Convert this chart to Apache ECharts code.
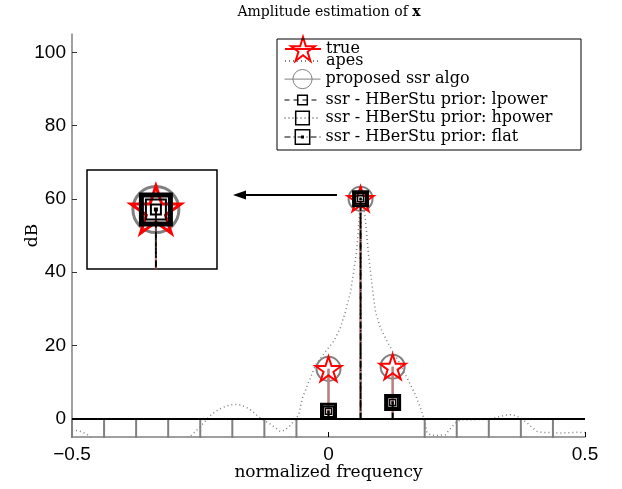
<!DOCTYPE html>
<html>
<head>
<meta charset="utf-8">
<script src="https://cdn.jsdelivr.net/npm/echarts@6/dist/echarts.min.js"></script>
<style>html,body{margin:0;padding:0;background:#fff}#c{width:622px;height:489px}</style>
</head>
<body>
<div id="c"></div>
<script>
// ---- data ----
const xTickValues = [-0.5, 0, 0.5];
const yTickValues = [0, 20, 40, 60, 80, 100];

const trueFreq = [0, 0.0625, 0.125];
const trueDb = [13.6, 60, 14.2];

const apesFreq = [-0.5,-0.49,-0.48,-0.47,-0.46,-0.44,-0.4,-0.36,-0.32,-0.29,-0.27,-0.26,-0.25,-0.24,-0.23,-0.22,-0.21,-0.2,-0.19,-0.18,-0.17,-0.16,-0.15,-0.14,-0.13,-0.12,-0.11,-0.1,-0.094,-0.085,-0.078,-0.072,-0.065,-0.058,-0.051,-0.038,-0.025,-0.006,0.01,0.023,0.033,0.043,0.049,0.0546,0.058,0.0604,0.0625,0.065,0.0675,0.0708,0.0741,0.0774,0.0819,0.0864,0.0916,0.1014,0.1176,0.137,0.1565,0.1696,0.1826,0.188,0.192,0.2,0.21,0.228,0.241,0.25,0.257,0.27,0.283,0.3,0.309,0.32,0.335,0.345,0.355,0.365,0.375,0.387,0.397,0.407,0.42,0.433,0.45,0.472,0.485,0.5];
const apesDb = [-3.0,-3.3,-3.6,-4.4,-5.6,-8,-10,-11,-9,-6.5,-4.8,-3.6,-2.2,-0.6,0.9,2.0,2.8,3.4,3.8,3.9,3.7,3.1,2.2,1.0,-0.1,-0.9,-1.8,-2.9,-3.5,-3.1,-2.3,-1.4,-0.2,1.1,5.6,10.2,14.7,18.3,21.1,24.7,29.2,34.7,40.1,45.6,51,55.6,58.5,60,58.5,55.6,51,45.6,40.1,34.7,29.2,24.7,20.2,15.6,10.2,6.5,1.6,-1.0,-3.8,-4.5,-4.6,-4.4,-2.1,-0.9,-0.3,-0.3,-0.3,-0.2,-0.2,0.1,0.6,1.0,1.1,0.8,0.1,-1.1,-2.4,-3.5,-3.8,-3.8,-3.9,-3.8,-3.7,-3.8];

const proposedFreq = [-0.5,-0.4375,-0.375,-0.3125,-0.25,-0.1875,-0.125,-0.0625,0,0.0625,0.125,0.1875,0.25,0.3125,0.375,0.4375];
const proposedDb = [-100,-100,-100,-100,-100,-100,-100,-100,13.6,60,14.2,-100,-100,-100,-100,-100];

const ssrFreq = [0, 0.0625, 0.125];
const lpowerDb = [2.0, 60, 4.4];
const hpowerDb = [2.0, 60, 4.4];
const flatDb = [1.9, 60, 4.4];

// ---- styles ----
const STAR = 'path://M50,0 L61.17,34.63 L97.55,34.55 L68.07,55.87 L79.39,90.45 L50,69 L20.61,90.45 L31.93,55.87 L2.45,34.55 L38.83,34.63 Z';
const DOTSQ = 'path://M0,0H20V20H0Z M9,9H11V11H9Z';
const GREY = '#808080';
const SERIF = 'DejaVu Serif';

function stems(xs, ys) {
  const d = [];
  xs.forEach((x, i) => {
    d.push({ value: [x, 0], symbol: 'none' });
    d.push([x, ys[i]]);
    d.push([x, '-']);
  });
  return d;
}

const defs = [
  { name: 'proposed ssr algo', xs: proposedFreq, ys: proposedDb, symbol: 'circle', size: [24, 46],
    item: { color: 'transparent', borderColor: GREY }, bw: [2, 3], line: { color: GREY, width: 2, type: 'solid' } },
  { name: 'true', xs: trueFreq, ys: trueDb, symbol: STAR, size: [26, 50],
    item: { color: 'transparent', borderColor: '#ff0000' }, bw: [2, 3], line: { color: '#c27c7c', width: 2, type: 'solid' } },
  { name: 'ssr - HBerStu prior: hpower', xs: ssrFreq, ys: hpowerDb, symbol: 'rect', size: [14, 29],
    item: { color: 'transparent', borderColor: '#000' }, bw: [3, 5], line: { color: '#000', width: 1.5, type: [1, 3] } },
  { name: 'ssr - HBerStu prior: flat', xs: ssrFreq, ys: flatDb, symbol: DOTSQ, size: [10, 20],
    item: { color: 'transparent', borderColor: '#000' }, bw: [1.5, 2], line: { color: '#000', width: 1.5, type: [6, 3, 1, 3] } },
  { name: 'ssr - HBerStu prior: lpower', xs: ssrFreq, ys: lpowerDb, symbol: 'rect', size: [6, 10],
    item: { color: 'transparent', borderColor: '#000' }, bw: [1.5, 2], line: { color: '#000', width: 1.5, type: [6, 4] } }
];

const series = [];
series.push({
  name: 'apes', type: 'line', xAxisIndex: 0, yAxisIndex: 0, symbol: 'none', showSymbol: false,
  data: apesFreq.map((f, i) => [f, apesDb[i]]),
  lineStyle: { color: GREY, width: 1.5, type: [1, 3] }, itemStyle: { color: GREY },
  silent: true, animation: false, z: 2,
  markLine: { silent: true, symbol: 'none', label: { show: false }, animation: false,
    lineStyle: { color: '#000', width: 2, type: 'solid' }, data: [{ yAxis: 0 }] }
});
defs.forEach((d, k) => {
  [0, 1].forEach(g => {
    series.push({
      name: d.name, type: 'line', xAxisIndex: g, yAxisIndex: g,
      data: stems(d.xs, d.ys), connectNulls: false,
      symbol: d.symbol, symbolSize: d.size[g], symbolKeepAspect: true, showSymbol: true,
      itemStyle: Object.assign({ borderWidth: d.bw[g] }, d.item),
      lineStyle: d.line, silent: true, animation: false, z: 3 + k + g * 10,
      clip: true
    });
  });
});

function leg(name, top, h, extra) {
  return Object.assign({
    data: [name], left: 284, top: top, itemWidth: 36, itemHeight: h, padding: 0,
    selectedMode: false, textStyle: { fontFamily: SERIF, fontSize: 16, color: '#000' }
  }, extra || {});
}

const option = {
  backgroundColor: '#fff',
  animation: false,
  grid: [
    { left: 72, top: 34, width: 513, height: 403, show: false, outerBoundsMode: 'none', containLabel: false },
    { left: 87, top: 170, width: 130, height: 99, show: true, borderColor: '#000', borderWidth: 1.5, backgroundColor: '#fff', z: 5, outerBoundsMode: 'none' }
  ],
  xAxis: [
    { type: 'value', gridIndex: 0, min: -0.5, max: 0.5, position: 'bottom',
      axisLine: { show: true, onZero: false, lineStyle: { color: GREY, width: 1.5 } },
      axisTick: { show: true, inside: true, length: 5, customValues: xTickValues, lineStyle: { color: '#000', width: 1 } },
      axisLabel: { customValues: xTickValues, formatter: v => String(v).replace('-', '\u2212'),
        fontFamily: 'Liberation Sans', fontSize: 19, color: '#000', margin: 8 },
      splitLine: { show: false },
      name: 'normalized frequency', nameLocation: 'middle', nameGap: 27, nameMoveOverlap: false,
      nameTextStyle: { fontFamily: SERIF, fontSize: 17, color: '#000' } },
    { type: 'value', gridIndex: 1, min: 0.05932, max: 0.06532, show: false }
  ],
  yAxis: [
    { type: 'value', gridIndex: 0, min: -5, max: 105, position: 'left',
      axisLine: { show: true, onZero: false, lineStyle: { color: GREY, width: 1.5 } },
      axisTick: { show: true, inside: true, length: 5, customValues: yTickValues, lineStyle: { color: '#333', width: 1 } },
      axisLabel: { customValues: yTickValues, fontFamily: 'Liberation Sans', fontSize: 19, color: '#000', margin: 6 },
      splitLine: { show: false },
      name: 'dB', nameLocation: 'middle', nameGap: 31, nameMoveOverlap: false,
      nameTextStyle: { fontFamily: SERIF, fontSize: 17, color: '#000' } },
    { type: 'value', gridIndex: 1, min: 57, max: 62, show: false }
  ],
  legend: [
    leg({ name: 'true', lineStyle: { color: '#ff0000', width: 2, type: 'solid' },
      itemStyle: { color: 'transparent', borderColor: '#ff0000', borderWidth: 2 } }, 36, 30),
    leg({ name: 'apes', itemStyle: { opacity: 0 } }, 53, 12),
    leg({ name: 'proposed ssr algo', itemStyle: { color: 'transparent', borderColor: GREY, borderWidth: 1 },
      lineStyle: { color: GREY, width: 1 } }, 69, 24),
    leg({ name: 'ssr - HBerStu prior: lpower', itemStyle: { color: 'transparent', borderColor: '#000', borderWidth: 1.5 },
      lineStyle: { color: '#000', width: 1, type: [5, 4] } }, 92, 12),
    leg({ name: 'ssr - HBerStu prior: hpower', itemStyle: { color: 'transparent', borderColor: '#000', borderWidth: 1.5 },
      lineStyle: { color: '#000', width: 1, type: [1, 3] } }, 110, 17),
    leg({ name: 'ssr - HBerStu prior: flat', itemStyle: { color: 'transparent', borderColor: '#000', borderWidth: 1.5 },
      lineStyle: { color: '#000', width: 1, type: [6, 3, 1, 3] } }, 129, 18)
  ],
  graphic: [
    { type: 'text', x: 329, y: 12, style: { text: 'Amplitude estimation of {b|x}', align: 'center', verticalAlign: 'middle',
      font: '14px "DejaVu Serif"', fill: '#000',
      rich: { b: { fontFamily: SERIF, fontSize: 14, fontWeight: 'bold', fill: '#000' } } } },
    { type: 'rect', shape: { x: 277, y: 39, width: 304, height: 111 }, style: { fill: 'none', stroke: '#000', lineWidth: 1 }, z: 100, silent: true },
    { type: 'line', shape: { x1: 337, y1: 195, x2: 244, y2: 195 }, style: { stroke: '#000', lineWidth: 2 }, z: 100, silent: true },
    { type: 'polygon', shape: { points: [[233, 195], [246, 190.5], [246, 199.5]] }, style: { fill: '#000' }, z: 100, silent: true }
  ],
  series: series
};

const chart = echarts.init(document.getElementById('c'), null, { renderer: 'canvas' });
chart.setOption(option);
</script>
</body>
</html>
